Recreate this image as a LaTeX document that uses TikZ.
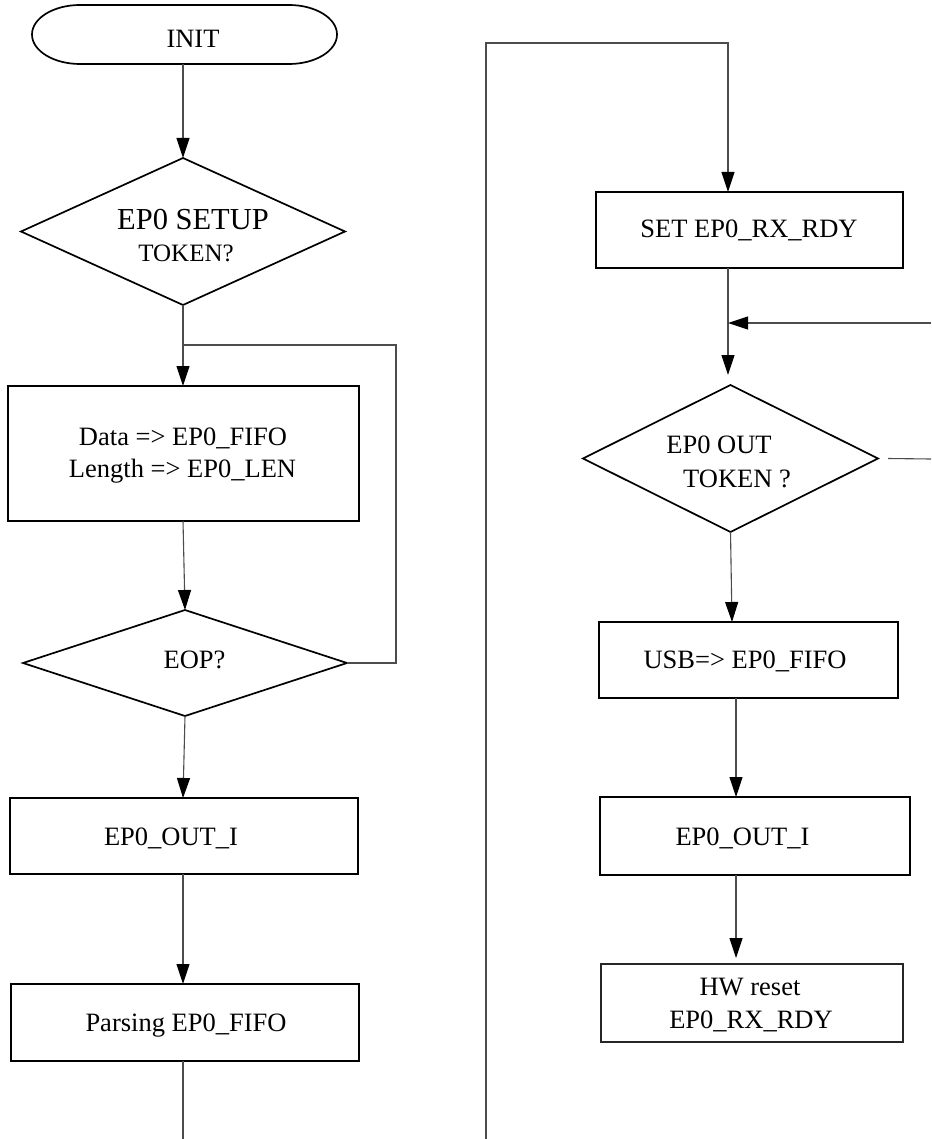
\documentclass[tikz,border=0pt]{standalone}
\usepackage{fontspec}
\setmainfont{Liberation Serif}
\usetikzlibrary{arrows.meta,shapes.geometric,calc}
\begin{document}
\begin{tikzpicture}[x=1pt,y=-1pt,
  box/.style={draw,line width=1.7pt,rectangle,inner sep=0pt,outer sep=0pt},
  thinbox/.style={draw=black!85,line width=1.3pt,rectangle,inner sep=0pt,outer sep=0pt},
  term/.style={rectangle,inner sep=0pt,outer sep=0pt},
  termline/.style={line width=1.7pt},
  dia/.style={draw,line width=1.7pt,diamond,inner sep=0pt,outer sep=0pt},
  conn/.style={draw=black!70,line width=1.1pt},
  arr/.style={conn,-{Triangle[length=20pt,width=13pt,color=black]}},
  txt/.style={anchor=base,inner sep=0pt,font=\fontsize{26.5}{32}\selectfont},
]
\fill[white] (0,0) rectangle (931,1139);
\useasboundingbox (0,0) rectangle (931,1139);

% ---------- left column ----------
\node[term,minimum width=305pt,minimum height=59pt] (init) at (184.5,34.5) {};
\draw[termline] ($(init.north west)+(48,0)$) -- ($(init.north east)+(-48,0)$)
  arc[start angle=90,end angle=-90,x radius=48pt,y radius=29.5pt]
  -- ($(init.south west)+(48,0)$)
  arc[start angle=270,end angle=90,x radius=48pt,y radius=29.5pt] -- cycle;
\node[txt] (tinit) at (193,48) {INIT};

\node[dia,minimum width=324pt,minimum height=147pt] (d1) at (183,231.5) {};
\node[txt,font=\fontsize{30.5}{36}\selectfont] (td1a) at (193,230) {EP0 SETUP};
\node[txt,font=\fontsize{25}{30}\selectfont] (td1b) at (186,262) {TOKEN?};

\node[box,minimum width=351pt,minimum height=135pt] (b1) at (183.5,453.5) {};
\node[txt] (tb1a) at (183,445) {Data => EP0\_FIFO};
\node[txt] (tb1b) at (182.5,477) {Length => EP0\_LEN};

\node[dia,minimum width=324pt,minimum height=106pt] (d2) at (185,663) {};
\node[txt] (td2) at (194.5,668) {EOP?};

\node[box,minimum width=348pt,minimum height=76pt] (b2) at (184,836) {};
\node[txt] (tb2) at (171,845) {EP0\_OUT\_I};

\node[box,minimum width=348pt,minimum height=77pt] (b3) at (185,1022.5) {};
\node[txt] (tb3) at (186,1031) {Parsing EP0\_FIFO};

\coordinate (xl) at (183,0);
\coordinate (j1) at (183,345);
\coordinate (lp) at (396,345);
\coordinate (botl) at (183,1139);

\draw[arr] (xl |- init.south) -- (d1.north);
\draw[arr] (d1.south) -- (xl |- b1.north);
\draw[conn] (d2.east) -| (lp) -- (j1);
\draw[arr] (xl |- b1.south) -- (d2.north);
\draw[arr] (d2.south) -- (xl |- b2.north);
\draw[arr] (xl |- b2.south) -- (xl |- b3.north);
\draw[conn] (xl |- b3.south) -- (botl);

% ---------- right column ----------
\node[box,minimum width=307pt,minimum height=76pt] (b4) at (749.5,230) {};
\node[txt] (tb4) at (749,238) {SET EP0\_RX\_RDY};

\node[dia,minimum width=295pt,minimum height=147pt] (d3) at (730.5,458.5) {};
\node[txt] (td3a) at (719,453) {EP0 OUT};
\node[txt] (td3b) at (737,487) {TOKEN ?};

\node[box,minimum width=299pt,minimum height=76pt] (b5) at (748.5,660) {};
\node[txt] (tb5) at (745,668) {USB=> EP0\_FIFO};

\node[box,minimum width=310pt,minimum height=78pt] (b6) at (755,836) {};
\node[txt] (tb6) at (742.5,845) {EP0\_OUT\_I};

\node[thinbox,minimum width=302pt,minimum height=78pt] (b7) at (752,1003) {};
\node[txt] (tb7a) at (750,995) {HW reset};
\node[txt] (tb7b) at (751,1028) {EP0\_RX\_RDY};

\coordinate (lb) at (486,1139);
\coordinate (rt) at (728,43);
\coordinate (re1) at (931,323);
\coordinate (re2) at (931,459);
\coordinate (x732) at (732,0);
\coordinate (x736) at (736,0);
\coordinate (d3in) at ([yshift=10pt]d3.north);
\coordinate (b7in) at ([yshift=6pt]b7.north);

\draw[arr] (lb) |- (rt) -- (rt |- b4.north);
\draw[arr] (rt |- b4.south) -- (rt |- d3in);
\draw[arr] (re1) -- (re1 -| rt);
\draw[conn] ([xshift=10pt]d3.east) -- (re2);
\draw[arr] (d3.south) -- (x732 |- b5.north);
\draw[arr] (x736 |- b5.south) -- (x736 |- b6.north);
\draw[arr] (x736 |- b6.south) -- (x736 |- b7in);
\end{tikzpicture}
\end{document}
